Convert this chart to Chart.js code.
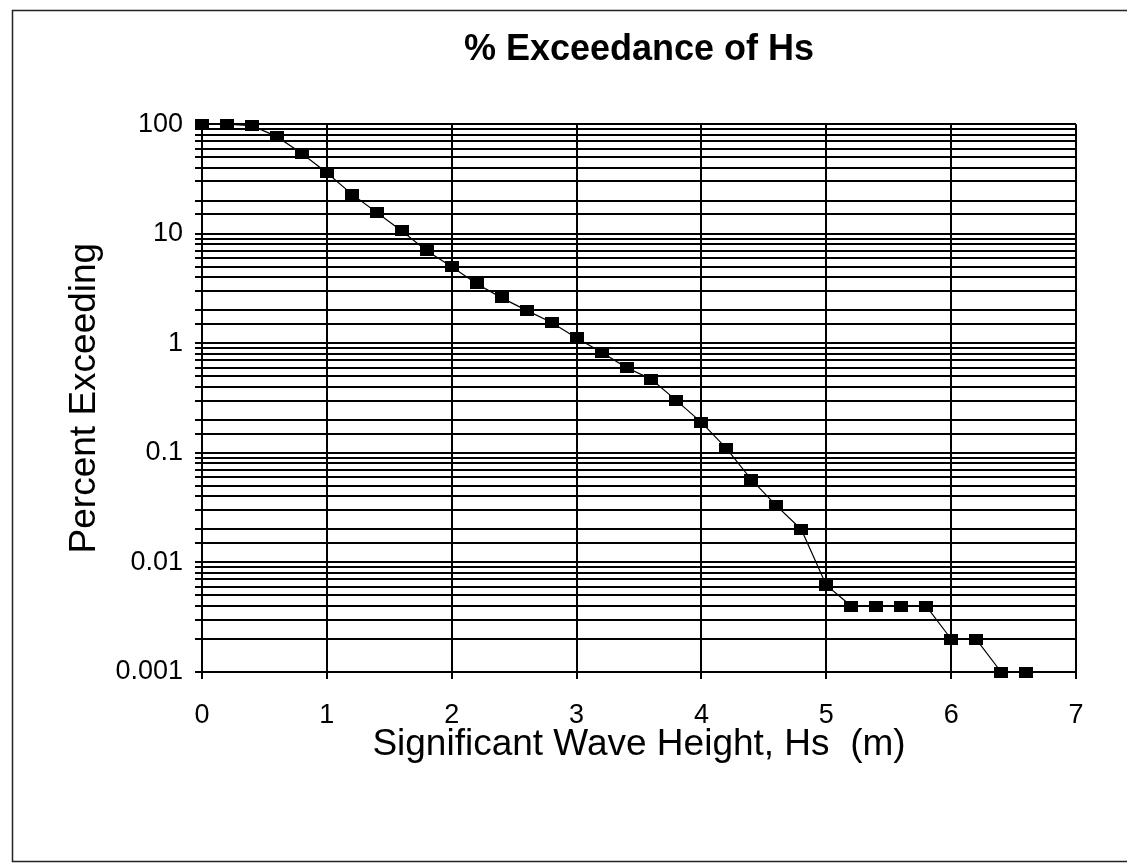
<!DOCTYPE html>
<html>
<head>
<meta charset="utf-8">
<script src="https://cdn.jsdelivr.net/npm/chart.js@4/dist/chart.umd.min.js"></script>
<style>
  html, body { margin: 0; padding: 0; background: #ffffff; }
  #wrap { width: 1127px; height: 867px; }
</style>
</head>
<body>
<div id="wrap"><canvas id="c" width="1127" height="867"></canvas></div>
<script>
// Significant wave height bins (m)
const waveHeights = [0.0, 0.2, 0.4, 0.6, 0.8, 1.0, 1.2, 1.4, 1.6, 1.8,
                     2.0, 2.2, 2.4, 2.6, 2.8, 3.0, 3.2, 3.4, 3.6, 3.8,
                     4.0, 4.2, 4.4, 4.6, 4.8, 5.0, 5.2, 5.4, 5.6, 5.8,
                     6.0, 6.2, 6.4, 6.6];
// Percent of records exceeding each height
const percentExceeding = [100, 100, 97, 77, 54, 36, 23, 15.6, 10.6, 7.0,
                          5.0, 3.5, 2.6, 2.0, 1.55, 1.12, 0.83, 0.6, 0.47, 0.3,
                          0.19, 0.11, 0.057, 0.033, 0.02, 0.0062, 0.004, 0.004, 0.004, 0.004,
                          0.002, 0.002, 0.001, 0.001];
// Axis ranges and labels
const xTickValues = [0, 1, 2, 3, 4, 5, 6, 7];
const yDecadeLabels = ['0.001', '0.01', '0.1', '1', '10', '100'];
const chartTitle = '% Exceedance of Hs';
const xTitle = 'Significant Wave Height, Hs  (m)';
const yTitle = 'Percent Exceeding';

// Filled rectangular marker
const marker = document.createElement('canvas');
marker.width = 14; marker.height = 11;
(function () {
  const m = marker.getContext('2d');
  m.fillStyle = '#000000';
  m.fillRect(0, 0, 14, 11);
})();

const points = waveHeights.map((x, i) => ({ x: x, y: percentExceeding[i] }));

const FONT = '"Liberation Sans", Arial, Helvetica, sans-serif';

const pageFrame = {
  id: 'pageFrame',
  beforeDraw(chart) {
    const ctx = chart.ctx;
    ctx.save();
    ctx.fillStyle = '#ffffff';
    ctx.fillRect(0, 0, chart.width, chart.height);
    ctx.strokeStyle = '#222222';
    ctx.lineWidth = 1.5;
    ctx.strokeRect(12.5, 10.5, 1140, 851);
    ctx.restore();
  }
};

new Chart(document.getElementById('c'), {
  type: 'scatter',
  data: {
    datasets: [{
      data: points,
      showLine: true,
      borderColor: '#000000',
      borderWidth: 1.2,
      pointStyle: marker,
      pointRadius: 7,
      pointHoverRadius: 7,
      clip: false
    }]
  },
  plugins: [pageFrame],
  options: {
    responsive: false,
    animation: false,
    devicePixelRatio: 1,
    layout: { padding: { left: 12, right: 51, top: 0, bottom: 0 } },
    plugins: {
      legend: { display: false },
      tooltip: { enabled: false },
      title: {
        display: true,
        fullSize: false,
        text: chartTitle,
        color: '#000000',
        font: { family: FONT, size: 36, weight: 'bold', lineHeight: 1.2 },
        padding: { top: 28, bottom: 53 }
      }
    },
    scales: {
      x: {
        type: 'linear',
        min: 0,
        max: 7,
        afterBuildTicks(scale) {
          scale.ticks = xTickValues.map(v => ({ value: v }));
        },
        afterFit(scale) { scale.height = 195; },
        grid: { color: '#000000', lineWidth: 2, tickLength: 7, drawTicks: true },
        border: { color: '#000000', width: 2 },
        ticks: {
          color: '#000000',
          font: { family: FONT, size: 27 },
          padding: 20,
          maxRotation: 0
        },
        title: {
          display: true,
          text: xTitle,
          color: '#000000',
          font: { family: FONT, size: 37, lineHeight: 1.2 },
          padding: { top: 0, bottom: 100 }
        }
      },
      y: {
        type: 'logarithmic',
        min: 0.001,
        max: 100,
        afterFit(scale) { scale.width = 190; },
        grid: { color: '#000000', lineWidth: 2, tickLength: 7 },
        border: { color: '#000000', width: 2 },
        ticks: {
          autoSkip: false,
          color: '#000000',
          font: { family: FONT, size: 27 },
          padding: 12,
          callback(value) {
            const l = Math.log10(value);
            if (Math.abs(l - Math.round(l)) > 1e-9) return '';
            return yDecadeLabels[Math.round(l) + 3];
          }
        },
        title: {
          display: true,
          text: yTitle,
          color: '#000000',
          font: { family: FONT, size: 37, lineHeight: 1.2 },
          padding: { top: 51, bottom: 0 }
        }
      }
    }
  }
});
</script>
</body>
</html>
